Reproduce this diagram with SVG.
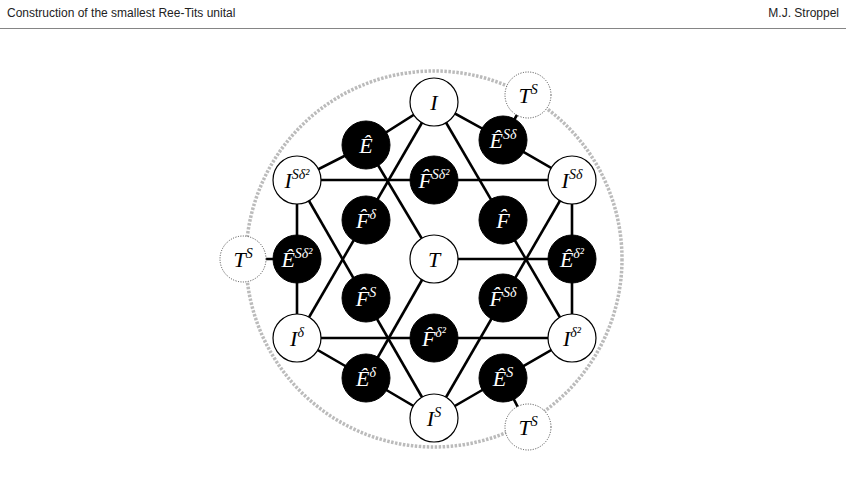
<svg xmlns="http://www.w3.org/2000/svg" width="846" height="478" viewBox="0 0 846 478">
<style>
.hd{font-family:"Liberation Sans",Arial,sans-serif;font-size:12px;fill:#222}
.e{stroke:#000;stroke-width:2.6;fill:none}
.w circle{fill:#fff;stroke:#000;stroke-width:1.2}
.b circle{fill:#000;stroke:#000}
.t circle{fill:#fff;stroke:#444;stroke-width:1;stroke-dasharray:1 1.5}
text.l{font-family:"Liberation Serif","Times New Roman",serif;font-style:italic;font-size:22px;text-anchor:middle}
.b text.l{fill:#fff}
.sp{font-size:14px}
</style>
<rect width="846" height="478" fill="#fff"/>
<text class="hd" x="7" y="17">Construction of the smallest Ree-Tits unital</text>
<text class="hd" x="839" y="17" text-anchor="end">M.J. Stroppel</text>
<line x1="0" y1="28.5" x2="846" y2="28.5" stroke="#666" stroke-width="0.8"/>
<circle cx="434" cy="259" r="188" fill="none" stroke="#bbb" stroke-width="3.5" stroke-dasharray="2.5 1.5"/>
<g id="connectors" class="e">
<polyline points="434,102 366,145 297,180 297,259 297,338 366,378 434,418 503,378 572,338 572,259 572,180 503,140 434,102"/>
<line x1="297" y1="180" x2="572" y2="180"/>
<line x1="297" y1="338" x2="572" y2="338"/>
<line x1="434" y1="102" x2="297" y2="338"/>
<line x1="434" y1="102" x2="572" y2="338"/>
<line x1="434" y1="418" x2="297" y2="180"/>
<line x1="434" y1="418" x2="572" y2="180"/>
<line x1="434" y1="259" x2="366" y2="145"/>
<line x1="434" y1="259" x2="366" y2="378"/>
<line x1="434" y1="259" x2="572" y2="259"/>
<line x1="503" y1="140" x2="528" y2="95"/>
<line x1="297" y1="259" x2="243" y2="259"/>
<line x1="503" y1="378" x2="528" y2="427"/>
</g>
<g id="TS1" class="t"><circle cx="528" cy="95" r="23"/><text class="l" x="528" y="103">T<tspan class="sp" dy="-9">S</tspan></text></g>
<g id="TS2" class="t"><circle cx="243" cy="259" r="23"/><text class="l" x="243" y="267">T<tspan class="sp" dy="-9">S</tspan></text></g>
<g id="TS3" class="t"><circle cx="528" cy="427" r="23"/><text class="l" x="528" y="435">T<tspan class="sp" dy="-9">S</tspan></text></g>
<g id="I" class="w"><circle cx="434" cy="102" r="24"/><text class="l" x="434" y="110">I</text></g>
<g id="ISd2" class="w"><circle cx="297" cy="180" r="24"/><text class="l" x="297" y="188">I<tspan class="sp" dy="-9">Sδ²</tspan></text></g>
<g id="ISd" class="w"><circle cx="572" cy="180" r="24"/><text class="l" x="572" y="188">I<tspan class="sp" dy="-9">Sδ</tspan></text></g>
<g id="Id" class="w"><circle cx="297" cy="338" r="24"/><text class="l" x="297" y="346">I<tspan class="sp" dy="-9">δ</tspan></text></g>
<g id="Id2" class="w"><circle cx="572" cy="338" r="24"/><text class="l" x="572" y="346">I<tspan class="sp" dy="-9">δ²</tspan></text></g>
<g id="IS" class="w"><circle cx="434" cy="418" r="24"/><text class="l" x="434" y="426">I<tspan class="sp" dy="-9">S</tspan></text></g>
<g id="T" class="w"><circle cx="434" cy="259" r="24"/><text class="l" x="434" y="267">T</text></g>
<g id="E" class="b"><circle cx="366" cy="145" r="24"/><text class="l" x="366" y="153">Ê</text></g>
<g id="ESd" class="b"><circle cx="503" cy="140" r="24"/><text class="l" x="503" y="148">Ê<tspan class="sp" dy="-9">Sδ</tspan></text></g>
<g id="FSd2" class="b"><circle cx="434" cy="180" r="24"/><text class="l" x="434" y="188">F̂<tspan class="sp" dy="-9">Sδ²</tspan></text></g>
<g id="Fd" class="b"><circle cx="366" cy="220" r="24"/><text class="l" x="366" y="228">F̂<tspan class="sp" dy="-9">δ</tspan></text></g>
<g id="F" class="b"><circle cx="503" cy="220" r="24"/><text class="l" x="503" y="228">F̂</text></g>
<g id="ESd2" class="b"><circle cx="297" cy="259" r="24"/><text class="l" x="297" y="267">Ê<tspan class="sp" dy="-9">Sδ²</tspan></text></g>
<g id="Ed2" class="b"><circle cx="572" cy="259" r="24"/><text class="l" x="572" y="267">Ê<tspan class="sp" dy="-9">δ²</tspan></text></g>
<g id="FS" class="b"><circle cx="366" cy="298" r="24"/><text class="l" x="366" y="306">F̂<tspan class="sp" dy="-9">S</tspan></text></g>
<g id="FSd" class="b"><circle cx="503" cy="298" r="24"/><text class="l" x="503" y="306">F̂<tspan class="sp" dy="-9">Sδ</tspan></text></g>
<g id="Fd2" class="b"><circle cx="434" cy="338" r="24"/><text class="l" x="434" y="346">F̂<tspan class="sp" dy="-9">δ²</tspan></text></g>
<g id="Ed" class="b"><circle cx="366" cy="378" r="24"/><text class="l" x="366" y="386">Ê<tspan class="sp" dy="-9">δ</tspan></text></g>
<g id="ES" class="b"><circle cx="503" cy="378" r="24"/><text class="l" x="503" y="386">Ê<tspan class="sp" dy="-9">S</tspan></text></g>
</svg>
